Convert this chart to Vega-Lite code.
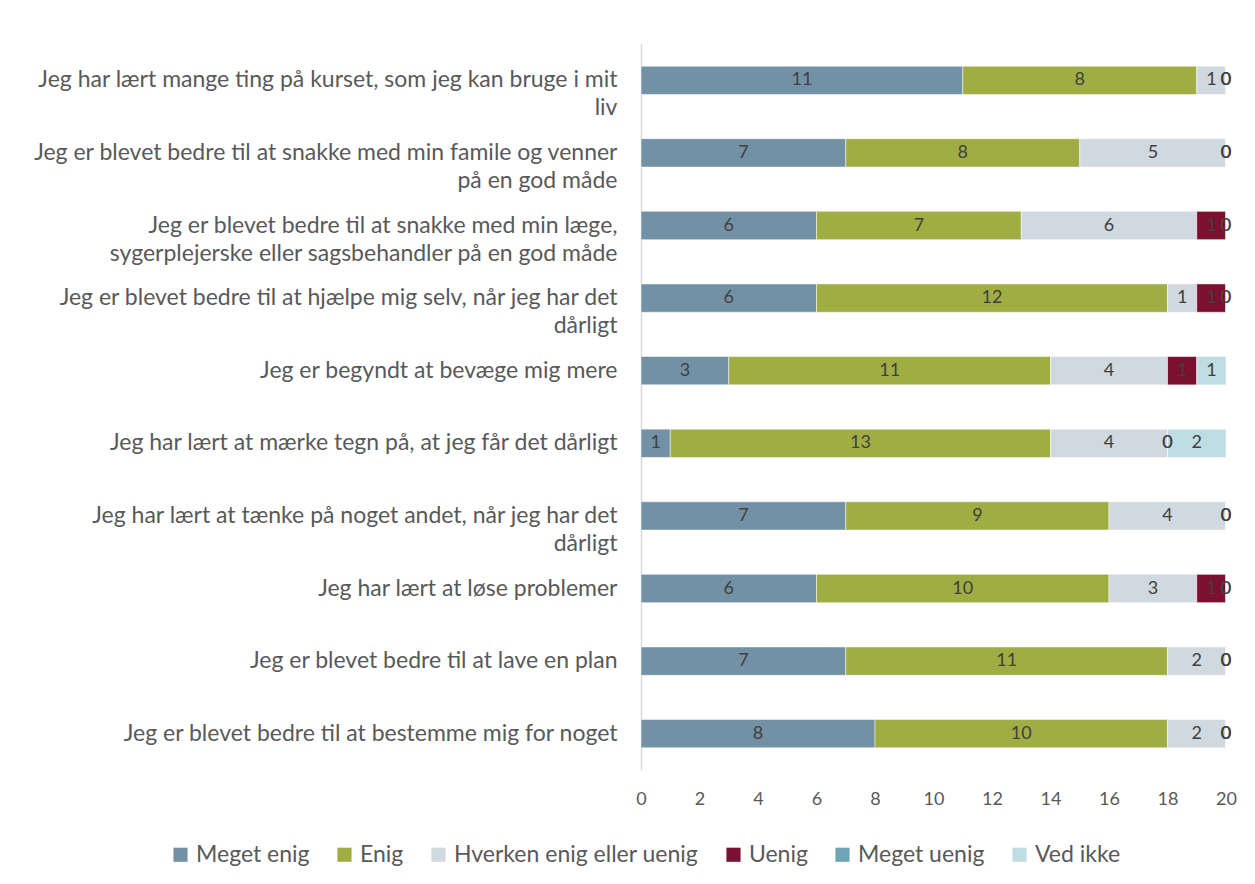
{
  "$schema": "https://vega.github.io/schema/vega-lite/v6.json",
  "autosize": "none",
  "width": 585,
  "height": 726,
  "padding": {"left": 641, "top": 44, "right": 29, "bottom": 114},
  "background": "white",
  "config": {
    "font": "Lato",
    "view": {"stroke": null},
    "axis": {"labelColor": "#595959", "domainColor": "#d9d9d9", "grid": false, "ticks": false, "title": null}
  },
  "data": {
    "values": [
      {"q": "Jeg har lært mange ting på kurset, som jeg kan bruge i mit\nliv", "Meget enig": 11, "Enig": 8, "Hverken enig eller uenig": 1, "Uenig": 0, "Meget uenig": 0, "Ved ikke": 0},
      {"q": "Jeg er blevet bedre til at snakke med min famile og venner\npå en god måde", "Meget enig": 7, "Enig": 8, "Hverken enig eller uenig": 5, "Uenig": 0, "Meget uenig": 0, "Ved ikke": 0},
      {"q": "Jeg er blevet bedre til at snakke med min læge,\nsygerplejerske eller sagsbehandler på en god måde", "Meget enig": 6, "Enig": 7, "Hverken enig eller uenig": 6, "Uenig": 1, "Meget uenig": 0, "Ved ikke": 0},
      {"q": "Jeg er blevet bedre til at hjælpe mig selv, når jeg har det\ndårligt", "Meget enig": 6, "Enig": 12, "Hverken enig eller uenig": 1, "Uenig": 1, "Meget uenig": 0, "Ved ikke": 0},
      {"q": "Jeg er begyndt at bevæge mig mere", "Meget enig": 3, "Enig": 11, "Hverken enig eller uenig": 4, "Uenig": 1, "Meget uenig": null, "Ved ikke": 1},
      {"q": "Jeg har lært at mærke tegn på, at jeg får det dårligt", "Meget enig": 1, "Enig": 13, "Hverken enig eller uenig": 4, "Uenig": 0, "Meget uenig": 0, "Ved ikke": 2},
      {"q": "Jeg har lært at tænke på noget andet, når jeg har det\ndårligt", "Meget enig": 7, "Enig": 9, "Hverken enig eller uenig": 4, "Uenig": 0, "Meget uenig": 0, "Ved ikke": 0},
      {"q": "Jeg har lært at løse problemer", "Meget enig": 6, "Enig": 10, "Hverken enig eller uenig": 3, "Uenig": 1, "Meget uenig": 0, "Ved ikke": 0},
      {"q": "Jeg er blevet bedre til at lave en plan", "Meget enig": 7, "Enig": 11, "Hverken enig eller uenig": 2, "Uenig": 0, "Meget uenig": 0, "Ved ikke": 0},
      {"q": "Jeg er blevet bedre til at bestemme mig for noget", "Meget enig": 8, "Enig": 10, "Hverken enig eller uenig": 2, "Uenig": 0, "Meget uenig": 0, "Ved ikke": 0}
    ]
  },
  "transform": [
    {"fold": ["Meget enig", "Enig", "Hverken enig eller uenig", "Uenig", "Meget uenig", "Ved ikke"], "as": ["s", "v"]},
    {"filter": "isValid(datum.v)"},
    {"calculate": "indexof(['Meget enig','Enig','Hverken enig eller uenig','Uenig','Meget uenig','Ved ikke'], datum.s)", "as": "o"}
  ],
  "encoding": {
    "y": {
      "field": "q", "type": "nominal", "sort": null,
      "scale": {"paddingInner": 0.61, "paddingOuter": 0.305},
      "axis": {"labelExpr": "split(datum.label, '\\n')", "labelFontSize": 23, "labelLineHeight": 28, "labelPadding": 24, "labelLimit": 700, "domainWidth": 1.5}
    },
    "order": {"field": "o", "type": "quantitative"}
  },
  "layer": [
    {
      "mark": {"type": "bar", "stroke": "white", "strokeWidth": 0.5},
      "encoding": {
        "x": {"field": "v", "type": "quantitative", "stack": "zero",
          "scale": {"domain": [0, 20], "nice": false},
          "axis": {"values": [0, 2, 4, 6, 8, 10, 12, 14, 16, 18, 20], "labelFontSize": 18, "labelPadding": 20, "labelFlush": false, "domain": false}},
        "color": {
          "field": "s", "type": "nominal",
          "scale": {
            "domain": ["Meget enig", "Enig", "Hverken enig eller uenig", "Uenig", "Meget uenig", "Ved ikke"],
            "range": ["#7391a4", "#9fad43", "#d0d8e0", "#7b1030", "#6fa3b8", "#bfdce3"]
          },
          "legend": {
            "title": null, "orient": "none", "direction": "horizontal",
            "legendX": -472, "legendY": 799,
            "symbolType": "square", "symbolSize": 200, "symbolStrokeWidth": 0,
            "labelFontSize": 23, "labelColor": "#595959", "labelLimit": 400, "columnPadding": 23, "labelOffset": 4
          }
        }
      }
    },
    {
      "mark": {"type": "text", "fontSize": 18, "color": "#404040", "baseline": "middle"},
      "encoding": {
        "x": {"field": "v", "type": "quantitative", "stack": "zero", "bandPosition": 0.5},
        "text": {"field": "v", "type": "quantitative"}
      }
    }
  ]
}
